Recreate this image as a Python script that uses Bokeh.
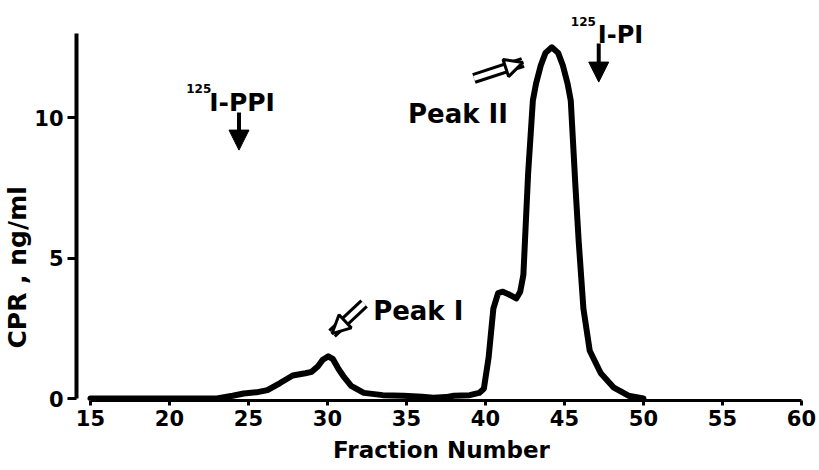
import math
from bokeh.plotting import figure
from bokeh.models import Label, Arrow, NormalHead, Range1d, FixedTicker, Title
from bokeh.embed import file_html
from bokeh.resources import INLINE

# ---- data ----
fraction = [15.0, 20.0, 23.0, 24.0, 24.7, 25.5, 26.2, 27.0, 27.8, 28.6, 29.0, 29.4,
            29.7, 30.05, 30.35, 30.7, 31.0, 31.5, 32.3, 33.5, 34.8, 36.0, 36.7, 37.5,
            38.0, 39.0, 39.6, 39.9, 40.2, 40.5, 40.8, 41.1, 41.5, 41.95, 42.2, 42.4,
            42.5, 42.7, 43.0, 43.2, 43.5, 43.8, 44.2, 44.6, 44.9, 45.2, 45.4, 45.7,
            45.9, 46.2, 46.6, 47.3, 48.1, 49.05, 50.0]
cpr = [0.0, 0.0, 0.0, 0.1, 0.18, 0.22, 0.3, 0.55, 0.82, 0.9, 0.95, 1.15,
       1.38, 1.5, 1.4, 1.05, 0.8, 0.45, 0.2, 0.12, 0.1, 0.06, 0.03, 0.05,
       0.1, 0.12, 0.2, 0.35, 1.46, 3.2, 3.75, 3.8, 3.7, 3.56, 3.8, 4.4,
       5.6, 8.0, 10.6, 11.2, 11.85, 12.3, 12.5, 12.3, 11.85, 11.2, 10.6, 7.5,
       5.6, 3.2, 1.7, 0.9, 0.4, 0.1, 0.0]
x_ticks = [15, 20, 25, 30, 35, 40, 45, 50, 55, 60]
y_ticks = [0, 5, 10]
marker_ppi = 24.4    # 125I-PPI elution position
marker_pi = 47.17    # 125I-PI elution position

FONT = "DejaVu Sans"

p = figure(width=819, height=470, output_backend="svg", toolbar_location=None,
           x_range=Range1d(14.115, 60.32), y_range=Range1d(-0.071, 14.164),
           min_border_left=75, min_border_right=13, min_border_top=0,
           min_border_bottom=70)
p.outline_line_color = None
p.grid.visible = False
p.background_fill_color = "white"
p.border_fill_color = "white"

p.line(fraction, cpr, line_width=6, line_color="black", line_join="round",
       line_cap="round")

# axes
xa = p.xaxis[0]
xa.ticker = FixedTicker(ticks=x_ticks)
xa.bounds = (15, 60)
xa.axis_line_width = 3
xa.axis_line_color = "black"
xa.major_tick_line_width = 3
xa.major_tick_line_color = "black"
xa.major_tick_out = 5
xa.major_tick_in = 0
xa.minor_tick_line_color = None
xa.major_label_text_font = FONT
xa.major_label_text_font_style = "bold"
xa.major_label_text_font_size = "21px"
xa.major_label_text_color = "black"
xa.major_label_standoff = 4
xa.axis_label = "Fraction Number"
xa.axis_label_text_font = FONT
xa.axis_label_text_font_style = "bold"
xa.axis_label_text_font_size = "23px"
xa.axis_label_text_color = "black"
xa.axis_label_standoff = 8

ya = p.yaxis[0]
ya.ticker = FixedTicker(ticks=y_ticks)
ya.bounds = (0, 13)
ya.axis_line_width = 4
ya.axis_line_color = "black"
ya.major_tick_line_width = 3
ya.major_tick_line_color = "black"
ya.major_tick_out = 9
ya.major_tick_in = 0
ya.minor_tick_line_color = None
ya.major_label_text_font = FONT
ya.major_label_text_font_style = "bold"
ya.major_label_text_font_size = "21px"
ya.major_label_text_color = "black"
ya.major_label_standoff = 4

# y axis title, placed below the frame centre as in the reference
p.add_layout(Title(text="CPR , ng/ml", align="left", offset=52,
                   text_font=FONT, text_font_style="bold", text_font_size="25px",
                   text_color="black", standoff=0), "left")

def lbl(x, y, t, size):
    p.add_layout(Label(x=x, y=y, text=t, text_font=FONT, text_font_style="bold",
                       text_font_size=size, text_align="left", text_color="black",
                       text_baseline="alphabetic"))

# marker labels
lbl(21.06, 11.05, "125", "12px")
lbl(22.52, 10.55, "I-PPI", "25px")
lbl(45.40, 13.40, "125", "12px")
lbl(47.11, 12.92, "I-PI", "24px")
lbl(35.10, 10.14, "Peak II", "26px")
lbl(32.89, 3.13, "Peak I", "26px")

# solid marker arrows
for xm, y0, y1 in [(marker_ppi, 10.18, 8.54), (marker_pi, 12.63, 10.96)]:
    p.add_layout(Arrow(x_start=xm, y_start=y0, x_end=xm, y_end=y1 + 0.3,
                       line_width=4, line_color="black",
                       end=NormalHead(size=20, fill_color="black",
                                      line_color="black", line_width=1)))

# hollow arrows pointing to the peaks
for x0, y0, x1, y1 in [(39.27, 11.39, 42.37, 11.96), (32.32, 3.38, 30.29, 2.31)]:
    p.add_layout(Arrow(x_start=x0, y_start=y0, x_end=x1, y_end=y1, line_width=11,
                       line_color="black", end=None))
    p.add_layout(Arrow(x_start=x0, y_start=y0, x_end=x1, y_end=y1, line_width=5,
                       line_color="white", end=None))
    p.add_layout(Arrow(x_start=x0, y_start=y0, x_end=x1, y_end=y1, line_alpha=0,
                       end=NormalHead(size=18, fill_color="white",
                                      line_color="black", line_width=3)))

open("out.html", "w").write(file_html(p, INLINE))
